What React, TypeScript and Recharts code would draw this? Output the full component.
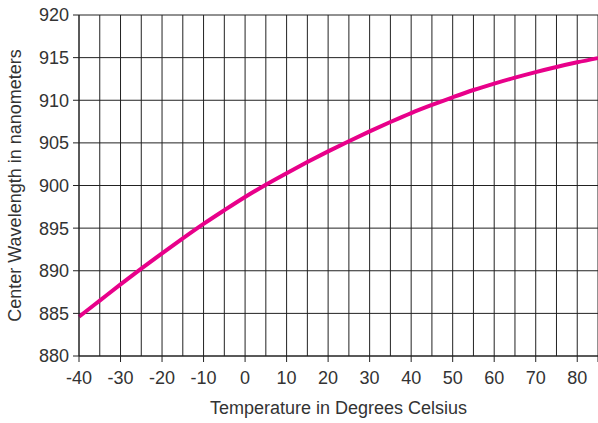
import React from "react";
import {
  LineChart,
  Line,
  XAxis,
  YAxis,
  CartesianGrid,
  Label,
} from "recharts";

// temperature (°C) sampled every 5 degrees
const temps = [
  -40, -35, -30, -25, -20, -15, -10, -5, 0, 5, 10, 15, 20, 25, 30, 35, 40, 45,
  50, 55, 60, 65, 70, 75, 80, 85,
];

// center wavelength (nm) at each temperature
const wavelengths = [
  884.6, 886.5, 888.4, 890.25, 892.05, 893.8, 895.5, 897.1, 898.65, 900.1,
  901.45, 902.75, 904.0, 905.2, 906.35, 907.45, 908.5, 909.45, 910.35, 911.2,
  911.95, 912.65, 913.3, 913.9, 914.45, 914.95,
];

const xTicks = [-40, -30, -20, -10, 0, 10, 20, 30, 40, 50, 60, 70, 80, 85];
const yTicks = [880, 885, 890, 895, 900, 905, 910, 915, 920];
const gridX = temps;

const data = temps.map((t, i) => ({ temp: t, wl: wavelengths[i] }));

const FONT = "'Liberation Sans', Arial, sans-serif";
const INK = "#333";
const GRID = "#222";
const textStyle = { fill: INK, fontSize: 18, fontFamily: FONT };

export default function App() {
  return (
    <div style={{ position: "absolute", left: 0, top: 0, fontFamily: FONT }}>
      <LineChart
        width={598}
        height={423}
        data={data}
        margin={{ top: 15, right: 0, bottom: 0, left: 0 }}
      >
        <CartesianGrid
          stroke={GRID}
          strokeWidth={1}
          verticalValues={gridX}
          horizontalValues={yTicks}
        />
        <XAxis
          dataKey="temp"
          type="number"
          domain={[-40, 85]}
          ticks={xTicks}
          interval={0}
          tickFormatter={(v: number) => (v === 85 ? "" : String(v))}
          height={67}
          tickSize={6}
          tickMargin={9}
          axisLine={{ stroke: GRID }}
          tickLine={{ stroke: GRID }}
          tick={textStyle}
        >
          <Label
            value="Temperature in Degrees Celsius"
            position="insideBottom"
            offset={9}
            style={textStyle}
          />
        </XAxis>
        <YAxis
          type="number"
          domain={[880, 920]}
          ticks={yTicks}
          interval={0}
          width={79}
          tickSize={6}
          tickMargin={4}
          axisLine={{ stroke: GRID }}
          tickLine={{ stroke: GRID }}
          tick={textStyle}
        >
          <Label
            value="Center Wavelength in nanometers"
            angle={-90}
            position="insideLeft"
            offset={15}
            style={{ ...textStyle, textAnchor: "middle" }}
          />
        </YAxis>
        <Line
          dataKey="wl"
          type="monotone"
          stroke="#E8008A"
          strokeWidth={4}
          dot={false}
          isAnimationActive={false}
        />
      </LineChart>
    </div>
  );
}
